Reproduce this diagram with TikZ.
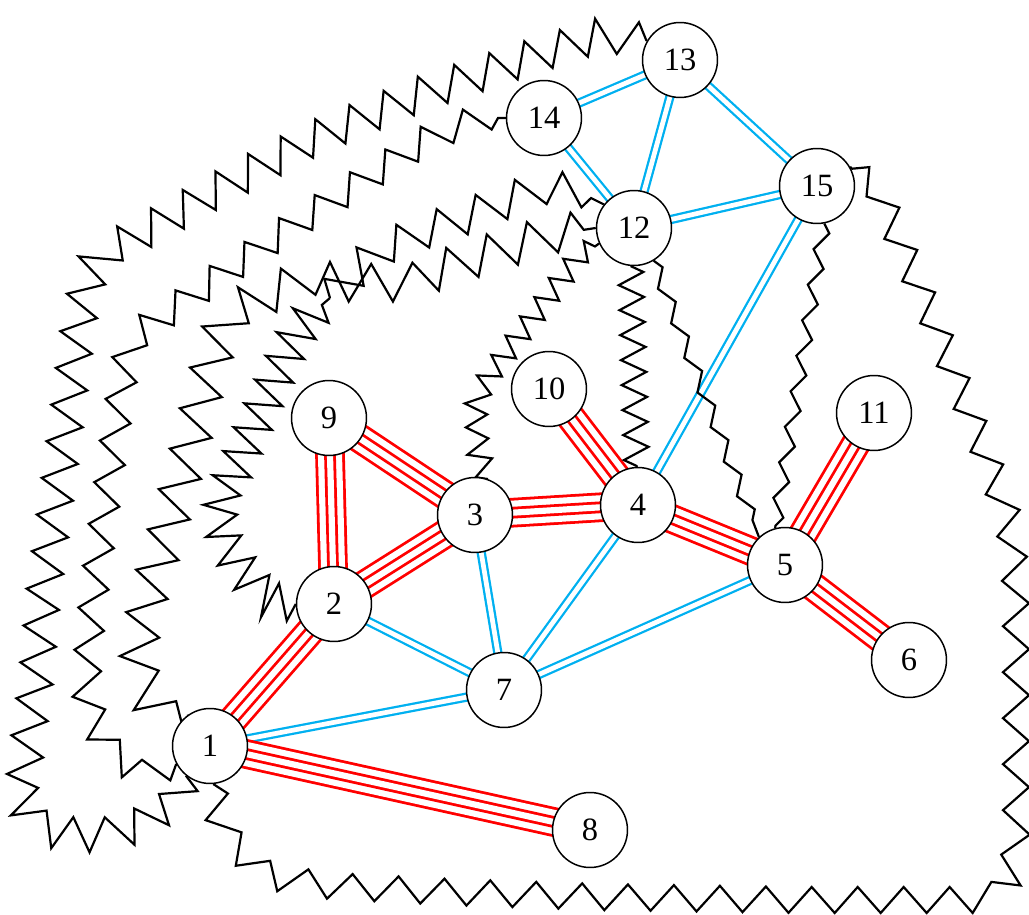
\documentclass[tikz,border=0pt]{standalone}
\usepackage{fontspec}
\setmainfont{Liberation Serif}
\usetikzlibrary{decorations.pathmorphing,backgrounds}
\definecolor{eblue}{RGB}{0,176,240}
\definecolor{ered}{RGB}{255,0,0}
\begin{document}
\begin{tikzpicture}[x=0.02cm,y=-0.02cm,
  vtx/.style={circle, draw=black, line width=0.85pt, fill=white, minimum size=1.5cm, inner sep=0pt, font=\fontsize{18.5}{18.5}\selectfont},
  bl/.style={draw=eblue, line width=1.3pt, double=white, double distance=2.7pt},
  zz/.style 2 args={draw=black, line width=1.25pt, decorate, decoration={zigzag, segment length=#1, amplitude=#2}}]
\useasboundingbox (0,0) rectangle (1029,915);
% nodes
\node[vtx] (n1)  at (210,746) {1};
\node[vtx] (n2)  at (334,604) {2};
\node[vtx] (n3)  at (475,515) {3};
\node[vtx] (n4)  at (638,505) {4};
\node[vtx] (n5)  at (785,565) {5};
\node[vtx] (n6)  at (909,660) {6};
\node[vtx] (n7)  at (504,690) {7};
\node[vtx] (n8)  at (590,830) {8};
\node[vtx] (n9)  at (329,418) {9};
\node[vtx] (n10) at (549,389) {10};
\node[vtx] (n11) at (874,413) {11};
\node[vtx] (n12) at (634,228) {12};
\node[vtx] (n13) at (680,60) {13};
\node[vtx] (n14) at (544,118) {14};
\node[vtx] (n15) at (817,186) {15};
\begin{scope}[on background layer]
\clip (0,0) rectangle (1029,915);
% blue double edges
\foreach \a/\b in {1/7,2/7,3/7,4/7,5/7,4/15,12/15,12/13,12/14,13/14,13/15}
  {\draw[bl] (n\a.center) -- (n\b.center);}
% red quadruple edges
\def\redlist{1/2,1/8,2/9,2/3,3/9,3/4,4/10,4/5,5/11,5/6}
\foreach \w/\c in {16.9pt/ered,13.72pt/white,6.69pt/ered,3.51pt/white}
  {\foreach \a/\b in \redlist {\draw[line width=\w, draw=\c] (n\a.center) -- (n\b.center);}}
% zigzag edges
\draw[zz={0.74cm}{0.34cm}] (n1.231) -- (175,800) -- (150,818) -- (128,829) -- (100,836) -- (70,834) -- (45,830) -- (30,820) -- (24,800) -- (24,775) -- (28,740) -- (36,680) -- (43,597) -- (55,507) -- (67,416) -- (78,327) -- (84,295) -- (92,270) -- (105,255) -- (120,245) -- (165,220) -- (213,192) -- (312,139) -- (418,95) -- (525,59) -- (600,35) -- (n13.149);
\draw[zz={0.84cm}{0.28cm}] (n1.208) -- (150,772) -- (126,764) -- (108,748) -- (95,725) -- (88,700) -- (87,670) -- (90,630) -- (96,576) -- (108,485) -- (120,397) -- (126,360) -- (135,338) -- (150,324) -- (175,308) -- (214,280) -- (285,231) -- (356,185) -- (426,140) -- (455,127) -- (482,118) -- (n14.180);
\draw[zz={0.84cm}{0.38cm}] (n1.125) -- (169,722) -- (150,700) -- (138,670) -- (140,640) -- (150,590) -- (164,542) -- (187,458) -- (208,374) -- (218,340) -- (230,318) -- (250,302) -- (275,292) -- (302,280) -- (330,281) -- (355,283) -- (380,283) -- (406,282) -- (478,257) -- (550,235) -- (n12.180);
\coordinate (dm) at (330,298);
\draw[zz={0.52cm}{0.36cm}] (n2.180) -- (268,600) -- (245,575) -- (228,548) -- (220,520) -- (222,500) -- (229,483) -- (249,437) -- (270,390) -- (292,342) -- (310,315) -- (dm);
\draw[zz={0.84cm}{0.34cm}] (dm) -- (355,270) -- (381,250) -- (420,233) -- (463,218) -- (541,188) -- (575,190) -- (n12.142);
\draw[zz={0.92cm}{0.26cm}] (n1.275) -- (218,815) -- (235,848) -- (255,865) -- (280,878) -- (330,886) -- (450,892) -- (600,897) -- (800,900) -- (975,900) -- (1000,893) -- (1012,875) -- (1016,840) -- (1016,600) -- (1014,560) -- (1008,520) -- (990,466) -- (936,328) -- (880,195) -- (n15.30);
\draw[zz={0.48cm}{0.22cm}] (n3.70) -- (478,452) -- (476,408) -- (481,390) -- (490,375) -- (516,340) -- (546,300) -- (576,260) -- (n12.204);
\draw[zz={0.5cm}{0.25cm}] (n12.265) -- (n4.92);
\draw[zz={0.74cm}{0.12cm}] (n12.301) -- (n5.133);
\draw[zz={0.72cm}{0.13cm}] (n15.281) -- (n5.105);
\end{scope}
\end{tikzpicture}
\end{document}
